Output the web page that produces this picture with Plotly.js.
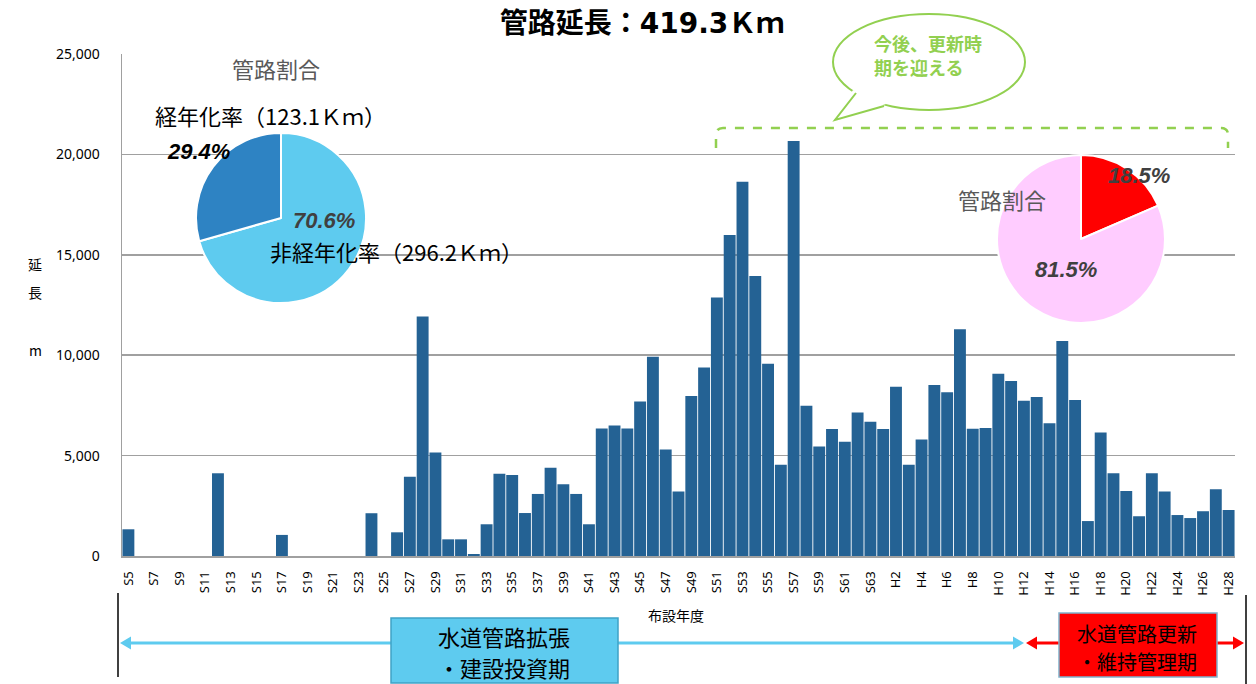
<!DOCTYPE html>
<html>
<head>
<meta charset="utf-8">
<script src="https://cdn.plot.ly/plotly-3.0.1.min.js"></script>
<style>html,body{margin:0;padding:0;background:#fff;}#chart{width:1256px;height:684px;}</style>
</head>
<body>
<div id="chart"></div>
<script>
// ---- data ----
const categories = [
  'S5','S6','S7','S8','S9','S10','S11','S12','S13','S14','S15','S16','S17','S18','S19','S20',
  'S21','S22','S23','S24','S25','S26','S27','S28','S29','S30','S31','S32','S33','S34','S35','S36',
  'S37','S38','S39','S40','S41','S42','S43','S44','S45','S46','S47','S48','S49','S50','S51','S52',
  'S53','S54','S55','S56','S57','S58','S59','S60','S61','S62','S63',
  'H1','H2','H3','H4','H5','H6','H7','H8','H9','H10','H11','H12','H13','H14','H15','H16',
  'H17','H18','H19','H20','H21','H22','H23','H24','H25','H26','H27','H28'
];
const lengths = [
  1330,0,0,0,0,0,0,4120,0,0,0,0,1050,0,0,0,
  0,0,0,2130,0,1180,3950,11930,5150,830,830,100,1580,4090,4040,2140,
  3090,4400,3570,3090,1580,6350,6500,6350,7690,9920,5300,3210,7970,9390,12870,15980,
  18640,13950,9580,4540,20670,7480,5450,6320,5690,7150,6680,
  6320,8430,4540,5800,8510,8150,11290,6340,6370,9080,8710,7730,7920,6610,10710,7770,
  1740,6150,4120,3240,1980,4120,3210,2040,1890,2230,3320,2290
];
const tickLabels = [
  'S5','S7','S9','S11','S13','S15','S17','S19','S21','S23','S25','S27','S29','S31','S33','S35',
  'S37','S39','S41','S43','S45','S47','S49','S51','S53','S55','S57','S59','S61','S63',
  'H2','H4','H6','H8','H10','H12','H14','H16','H18','H20','H22','H24','H26','H28'
];
const yTicks = [0, 5000, 10000, 15000, 20000, 25000];
const agedLabels = ['非経年化', '経年化'];
const agedShare = [70.6, 29.4];
const renewLabels = ['更新時期', 'その他'];
const renewShare = [18.5, 81.5];

// ---- geometry helpers (pixel -> paper) ----
const L = 122, R = 1235, T = 54, B = 556;
const W = R - L, H = B - T;
const X = px => (px - L) / W;
const Y = py => (B - py) / H;
const FONT = '"Noto Sans CJK JP", "Noto Sans", sans-serif';
const GREEN = '#92d050';

const bars = {
  type: 'bar', x: categories, y: lengths,
  marker: {color: '#246294', line: {width: 0}},
  hoverinfo: 'x+y', showlegend: false
};
const pie1 = {
  type: 'pie', labels: agedLabels, values: agedShare, sort: false,
  direction: 'clockwise', rotation: 0,
  marker: {colors: ['#5ecbef', '#2e83c3'], line: {color: '#ffffff', width: 2}},
  textinfo: 'none', hoverinfo: 'label+percent', showlegend: false,
  domain: {x: [X(196), X(366)], y: [Y(303), Y(133)]}
};
const pie2 = {
  type: 'pie', labels: renewLabels, values: renewShare, sort: false,
  direction: 'clockwise', rotation: 0,
  marker: {colors: ['#ff0000', '#ffccff'], line: {color: '#ffffff', width: 2}},
  textinfo: 'none', hoverinfo: 'label+percent', showlegend: false,
  domain: {x: [X(997), X(1165)], y: [Y(323), Y(155)]}
};

function ann(text, px, py, opts) {
  return Object.assign({
    text: text, xref: 'paper', yref: 'paper', x: X(px), y: Y(py),
    showarrow: false, xanchor: 'center', yanchor: 'middle',
    font: {family: FONT, size: 20, color: '#000'}
  }, opts || {});
}
function pathStr(pts, close) {
  return pts.map((p, i) => (i ? 'L' : 'M') + X(p[0]) + ',' + Y(p[1])).join(' ') + (close ? ' Z' : '');
}
function tri(a, b, c, color) {
  return {type: 'path', xref: 'paper', yref: 'paper', path: pathStr([a, b, c], true),
    fillcolor: color, line: {width: 0}};
}

const pctFont = (size, color) => ({family: '"Liberation Sans", Arial, sans-serif',
  size: size, color: color, weight: 700, style: 'italic'});
const jp = (size, color, weight) => ({family: FONT, size: size, color: color, weight: weight || 400});

const annotations = [
  ann('管路割合', 276, 68, {font: jp(22, '#595959')}),
  ann('経年化率（123.1Ｋｍ）', 153, 115, {xanchor: 'left', font: jp(22, '#000')}),
  ann('29.4%', 165, 151, {xanchor: 'left', font: pctFont(22, '#000')}),
  ann('70.6%', 291, 220, {xanchor: 'left', font: pctFont(22, '#404040')}),
  ann('非経年化率（296.2Ｋｍ）', 268, 251, {xanchor: 'left', font: jp(22, '#000')}),
  ann('管路割合', 956, 199, {xanchor: 'left', font: jp(22, '#595959')}),
  ann('18.5%', 1106, 175, {xanchor: 'left', font: pctFont(22, '#404040')}),
  ann('81.5%', 1033, 269, {xanchor: 'left', font: pctFont(22, '#404040')}),
  ann('今後、更新時', 872, 43, {xanchor: 'left', font: jp(18, GREEN, 700)}),
  ann('期を迎える', 872, 67, {xanchor: 'left', font: jp(18, GREEN, 700)}),
  ann('延', 35, 264, {font: jp(14, '#000')}),
  ann('長', 35, 292, {font: jp(14, '#000')}),
  ann('m', 35, 350, {font: jp(14, '#000')}),
  ann('布設年度', 676, 615, {font: jp(14, '#000')}),
  ann('水道管路拡張', 504, 636, {font: jp(22, '#000')}),
  ann('・建設投資期', 504, 667, {font: jp(22, '#000')}),
  ann('水道管路更新', 1137, 633, {font: jp(20, '#000')}),
  ann('・維持管理期', 1137, 661, {font: jp(20, '#000')})
];

const shapes = [
  // speech bubble
  {type: 'circle', xref: 'paper', yref: 'paper', x0: X(833), x1: X(1025), y0: Y(110), y1: Y(14),
   fillcolor: '#ffffff', line: {color: GREEN, width: 2}},
  {type: 'path', xref: 'paper', yref: 'paper', path: pathStr([[853, 90], [835, 120], [886, 104], [880, 98]], true),
   fillcolor: '#ffffff', line: {width: 0}},
  {type: 'path', xref: 'paper', yref: 'paper', path: pathStr([[856, 93], [835, 120], [884, 106]], false),
   line: {color: GREEN, width: 2}},
  // dashed bracket
  {type: 'path', xref: 'paper', yref: 'paper',
   path: 'M' + X(716) + ',' + Y(148) + ' L' + X(716) + ',' + Y(135) + ' Q' + X(716) + ',' + Y(128) + ' ' + X(723) + ',' + Y(128) +
         ' L' + X(1221) + ',' + Y(128) + ' Q' + X(1228) + ',' + Y(128) + ' ' + X(1228) + ',' + Y(135) + ' L' + X(1228) + ',' + Y(148),
   line: {color: GREEN, width: 2.5, dash: 'dash'}},
  // bottom vertical black lines
  {type: 'line', xref: 'paper', yref: 'paper', x0: X(118), x1: X(118), y0: Y(593), y1: Y(677), line: {color: '#000', width: 1.5}},
  {type: 'line', xref: 'paper', yref: 'paper', x0: X(1246), x1: X(1246), y0: Y(595), y1: Y(684), line: {color: '#000', width: 1.5}},
  // blue arrow
  {type: 'line', xref: 'paper', yref: 'paper', x0: X(126), x1: X(1018), y0: Y(643), y1: Y(643), line: {color: '#5ecbef', width: 3}},
  tri([120, 643], [131, 636.5], [131, 649.5], '#5ecbef'),
  tri([1024, 643], [1013, 636.5], [1013, 649.5], '#5ecbef'),
  // red arrow
  {type: 'line', xref: 'paper', yref: 'paper', x0: X(1032), x1: X(1237), y0: Y(643), y1: Y(643), line: {color: '#ff0000', width: 3}},
  tri([1026, 643], [1037, 636.5], [1037, 649.5], '#ff0000'),
  tri([1244, 643], [1233, 636.5], [1233, 649.5], '#ff0000'),
  // boxes
  {type: 'rect', xref: 'paper', yref: 'paper', x0: X(391), x1: X(618), y0: Y(683), y1: Y(618),
   fillcolor: '#5ecbef', line: {color: '#3fa3c6', width: 1.5}},
  {type: 'rect', xref: 'paper', yref: 'paper', x0: X(1059), x1: X(1217), y0: Y(677), y1: Y(613),
   fillcolor: '#ff0000', line: {color: '#7fb2cc', width: 1.5}}
];

const layout = {
  width: 1256, height: 684,
  margin: {l: L, r: 1256 - R, t: T, b: 684 - B, pad: 0},
  paper_bgcolor: '#ffffff', plot_bgcolor: '#ffffff',
  title: {text: '管路延長：419.3Ｋｍ', xref: 'container', yref: 'container',
    x: 642 / 1256, y: 1 - 23 / 684, xanchor: 'center', yanchor: 'middle',
    font: {family: '"DejaVu Sans", "Noto Sans CJK JP", sans-serif', size: 28, color: '#000', weight: 700}},
  bargap: 0.07,
  xaxis: {type: 'category', tickmode: 'array', tickvals: tickLabels, ticktext: tickLabels,
    tickangle: -90, ticks: '', ticklabelstandoff: 8,
    tickfont: {family: '"Noto Sans", sans-serif', size: 13, color: '#000'},
    showline: true, linecolor: '#a0a0a0', linewidth: 2, showgrid: false, fixedrange: true},
  yaxis: {range: [0, 25000], tickmode: 'array', tickvals: yTicks, tickformat: ',d',
    ticks: '', ticklabelstandoff: 18,
    tickfont: {family: '"Noto Sans", sans-serif', size: 14, color: '#000'},
    showline: true, linecolor: '#a0a0a0', linewidth: 1.5,
    showgrid: true, gridcolor: '#a0a0a0', gridwidth: 1.5, zeroline: false, fixedrange: true},
  annotations: annotations,
  shapes: shapes,
  showlegend: false
};

Plotly.newPlot('chart', [bars, pie1, pie2], layout, {displayModeBar: false, staticPlot: true});
</script>
</body>
</html>
